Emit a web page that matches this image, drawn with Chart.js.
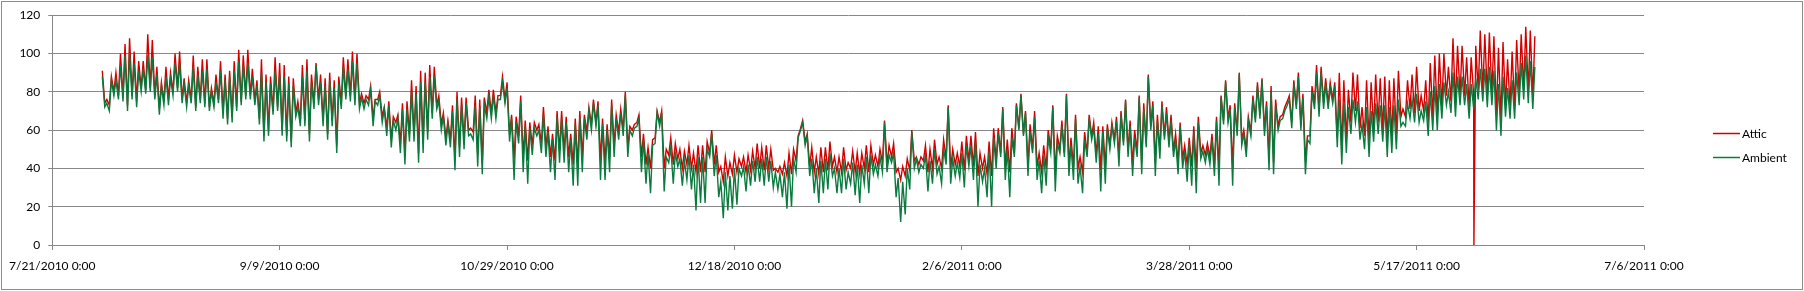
<!DOCTYPE html>
<html><head><meta charset="utf-8">
<script src="https://cdn.jsdelivr.net/npm/chart.js@4.4.1/dist/chart.umd.min.js"></script>
<style>html,body{margin:0;padding:0;background:#fff;}canvas{display:block;}</style>
</head><body>
<canvas id="c" width="1804" height="291"></canvas>
<script>
const seriesNames = ['Attic', 'Ambient'];
const xTickDays = [0, 50, 100, 150, 200, 250, 300, 350]; // days after 7/21/2010
const yTicks = [0, 20, 40, 60, 80, 100, 120];
const firstDay = 11;

const atticHigh = [
91,76,88,90,100,105,108,101,96,96,110,107,93,85,93,90,100,101,87,86,99,93,97,97,82,89,96,89,91,96,102,99,102,92,86,97,89,88,98,95,94,88,87,75,94,
97,89,95,89,87,90,86,88,98,97,101,100,79,78,83,76,80,72,75,67,68,74,75,86,83,91,90,94,93,78,69,65,73,80,77,77,61,78,76,77,81,81,78,88,85,68,
67,78,65,64,64,63,72,62,58,70,70,67,58,66,70,68,72,76,75,66,63,76,68,71,80,62,63,68,58,51,55,70,70,50,56,53,50,49,52,48,52,52,54,60,52,
41,46,43,47,45,46,47,49,53,51,52,50,40,41,43,48,50,57,65,58,51,46,51,51,54,46,46,51,43,49,48,48,52,52,47,50,65,52,53,40,41,45,60,46,46,52,
50,55,46,55,73,50,48,54,57,57,59,48,46,54,61,61,72,55,61,74,79,70,63,70,48,52,60,73,57,65,79,56,68,46,59,68,64,62,62,63,64,67,70,76,65,
60,78,74,89,75,68,75,72,68,58,64,52,56,62,67,52,53,58,67,78,86,73,74,90,60,67,78,85,87,75,83,76,67,72,78,86,90,79,57,83,94,93,87,85,85,
90,86,81,90,89,72,86,85,89,87,88,86,87,91,71,86,89,93,78,86,95,99,100,100,93,108,104,104,98,98,104,112,110,111,109,103,106,97,101,107,110,114,112,109];

const atticLow = [null,
74,73,80,78,77,73,78,75,82,81,82,78,71,75,76,80,82,76,74,76,72,76,74,72,74,76,69,66,67,72,75,78,78,75,66,57,60,70,72,60,57,54,69,65,
65,58,74,76,65,58,65,52,74,78,78,76,74,74,76,66,76,67,61,55,64,53,47,58,58,48,53,59,69,73,63,56,55,45,51,55,60,59,47,43,69,69,69,78,76,58,
45,57,46,44,52,60,53,51,46,44,49,49,46,42,42,46,59,63,64,44,43,46,52,59,60,51,60,64,46,42,40,56,64,40,47,42,45,40,42,40,38,38,38,48,42,
38,33,36,37,38,41,38,39,40,40,39,40,39,38,37,36,37,44,61,54,41,38,37,38,39,41,38,38,39,40,38,37,40,38,42,41,43,42,46,38,34,36,39,44,42,44,
38,40,42,40,45,40,42,41,39,44,41,36,40,37,36,44,48,41,38,48,61,58,42,50,41,38,40,50,38,50,48,42,41,40,38,48,57,47,39,41,52,55,46,54,49,
42,49,43,53,62,43,49,57,54,49,43,45,42,41,40,48,47,46,42,40,65,66,40,59,55,50,59,66,68,60,45,43,62,68,75,64,73,63,44,57,74,70,74,74,76,56,
50,55,64,70,61,57,54,60,64,60,54,56,58,67,67,71,69,70,70,64,67,67,72,78,75,73,78,78,72,78,81,80,78,79,68,65,73,72,72,79,81,80,77];

const ambientHigh = [
88,74,86,86,94,99,100,95,91,92,99,98,89,83,88,87,95,95,84,83,93,89,91,92,80,85,91,86,88,91,96,94,95,88,83,90,85,84,91,89,88,84,83,72,88,
91,85,94,85,83,86,82,84,93,92,96,95,77,76,81,75,78,71,73,65,66,71,71,80,79,85,85,88,88,75,67,63,70,76,73,74,58,73,72,73,77,78,76,85,82,66,
64,75,62,61,61,60,68,59,55,67,66,64,55,63,67,66,70,74,73,63,60,73,66,69,78,60,61,66,55,48,52,69,69,46,51,48,45,44,47,42,46,46,50,58,47,
33,38,36,40,40,41,42,44,46,45,46,44,38,37,38,42,45,56,64,57,45,40,44,45,48,40,40,45,38,43,42,42,46,47,42,46,64,47,48,35,33,40,59,45,42,47,
44,50,41,50,72,45,43,48,52,52,54,42,40,49,56,58,71,50,56,73,78,69,59,67,44,47,56,72,53,62,78,52,66,41,55,66,61,58,59,61,62,65,68,75,62,
56,77,71,88,73,65,73,69,65,55,62,49,53,59,64,49,50,55,65,77,85,71,72,89,58,65,76,83,86,73,80,73,65,70,76,84,88,77,55,80,90,90,84,82,83,
76,74,72,76,75,63,72,70,74,73,73,72,73,76,64,74,76,79,70,75,80,83,84,85,80,90,88,88,84,84,87,92,92,93,91,84,88,82,86,90,95,99,96,93];

const ambientLow = [null,
72,70,78,76,75,70,76,72,80,79,80,76,68,73,73,78,80,74,72,74,70,74,72,70,72,74,66,63,64,70,73,76,76,73,63,54,57,68,70,57,54,51,67,62,
62,54,71,73,62,55,62,48,71,76,75,73,71,71,73,62,73,64,57,51,60,48,42,54,54,43,48,55,66,71,60,52,51,39,46,50,57,55,41,37,66,66,66,76,74,54,
34,53,38,32,47,57,48,46,38,34,43,43,38,31,31,38,55,60,62,34,34,38,46,55,57,46,57,62,38,32,27,53,62,28,43,32,41,31,34,29,18,22,22,46,36,
25,14,18,19,21,36,28,31,33,33,31,33,30,29,25,19,20,38,60,52,36,27,22,27,29,36,27,27,29,32,26,22,32,27,37,36,38,38,43,25,12,16,29,40,38,40,
28,32,37,32,42,32,36,35,30,41,34,20,33,25,20,40,46,34,25,46,60,57,36,48,34,27,31,48,28,48,46,36,34,32,27,46,55,43,28,32,50,53,41,52,46,
36,46,37,51,60,36,45,55,51,46,37,40,33,31,27,45,43,42,36,31,63,64,31,57,52,46,57,64,66,57,39,37,60,66,73,61,71,60,37,53,71,67,71,71,74,51,
42,48,58,64,55,50,46,54,58,54,46,48,50,62,62,66,64,64,65,57,60,60,66,73,69,67,73,73,66,71,76,75,72,73,60,57,67,66,66,73,76,74,71];

// single sensor dropout reading in the Attic series: [day, value]
const atticDropouts = [[312.6, 0]];

function buildSeries(highs, lows, extra) {
  const pts = [];
  const n = Math.min(highs.length, lows.length);
  for (let i = 0; i < n; i++) {
    const d = firstDay + i;
    if (lows[i] != null) pts.push({x: d - 0.45, y: lows[i]});
    pts.push({x: d, y: highs[i]});
  }
  (extra || []).forEach(p => pts.push({x: p[0], y: p[1]}));
  pts.sort((a, b) => a.x - b.x);
  return pts;
}

function fmtDay(v) {
  const dt = new Date(Date.UTC(2010, 6, 21) + v * 86400000);
  return (dt.getUTCMonth() + 1) + '/' + dt.getUTCDate() + '/' + dt.getUTCFullYear() + ' 0:00';
}

const COLORS = ['#d40000', '#0b7a3e'];
const GRID = '#878787';
const FONT = {family: 'Lato, "Open Sans", sans-serif', size: 12};

const frame = {
  id: 'frame',
  beforeDraw(chart) {
    const c = chart.ctx;
    c.save();
    c.fillStyle = '#fff';
    c.fillRect(0, 0, chart.width, chart.height);
    c.restore();
  },
  afterDraw(chart) {
    const c = chart.ctx;
    c.save();
    c.strokeStyle = '#8c8c8c';
    c.lineWidth = 1;
    c.strokeRect(1.5, 1.5, 1801, 288);
    // legend
    const ys = [133, 157];
    c.font = '12px ' + FONT.family;
    c.textBaseline = 'middle';
    c.textAlign = 'left';
    seriesNames.forEach((name, i) => {
      c.strokeStyle = COLORS[i];
      c.lineWidth = 1.5;
      c.beginPath();
      c.moveTo(1713, ys[i] + 0.5);
      c.lineTo(1740, ys[i] + 0.5);
      c.stroke();
      c.fillStyle = '#000';
      c.fillText(name, 1742, ys[i] + 1);
    });
    c.restore();
  }
};

new Chart(document.getElementById('c'), {
  type: 'line',
  data: {
    datasets: [
      {label: seriesNames[0], data: buildSeries(atticHigh, atticLow, atticDropouts),
       borderColor: COLORS[0], borderWidth: 1.4, pointRadius: 0, tension: 0, order: 1},
      {label: seriesNames[1], data: buildSeries(ambientHigh, ambientLow),
       borderColor: COLORS[1], borderWidth: 1.4, pointRadius: 0, tension: 0, order: 0}
    ]
  },
  options: {
    responsive: false,
    animation: false,
    devicePixelRatio: 1,
    layout: {padding: {top: 15, right: 160, bottom: 0, left: 0}},
    plugins: {legend: {display: false}, tooltip: {enabled: false}},
    scales: {
      x: {
        type: 'linear', min: 0, max: 350,
        afterBuildTicks: s => { s.ticks = xTickDays.map(v => ({value: v})); },
        afterFit: s => { s.height = 46; },
        ticks: {callback: v => fmtDay(v), autoSkip: false, maxRotation: 0, minRotation: 0,
                padding: 9, color: '#000', font: FONT},
        grid: {drawOnChartArea: false, drawTicks: true, tickLength: 5, color: GRID},
        border: {color: GRID}
      },
      y: {
        min: 0, max: 120,
        afterBuildTicks: s => { s.ticks = yTicks.map(v => ({value: v})); },
        afterFit: s => { s.width = 52; },
        ticks: {padding: 8, color: '#000', font: FONT},
        grid: {color: GRID, tickLength: 4},
        border: {color: GRID}
      }
    }
  },
  plugins: [frame]
});
</script>
</body></html>
